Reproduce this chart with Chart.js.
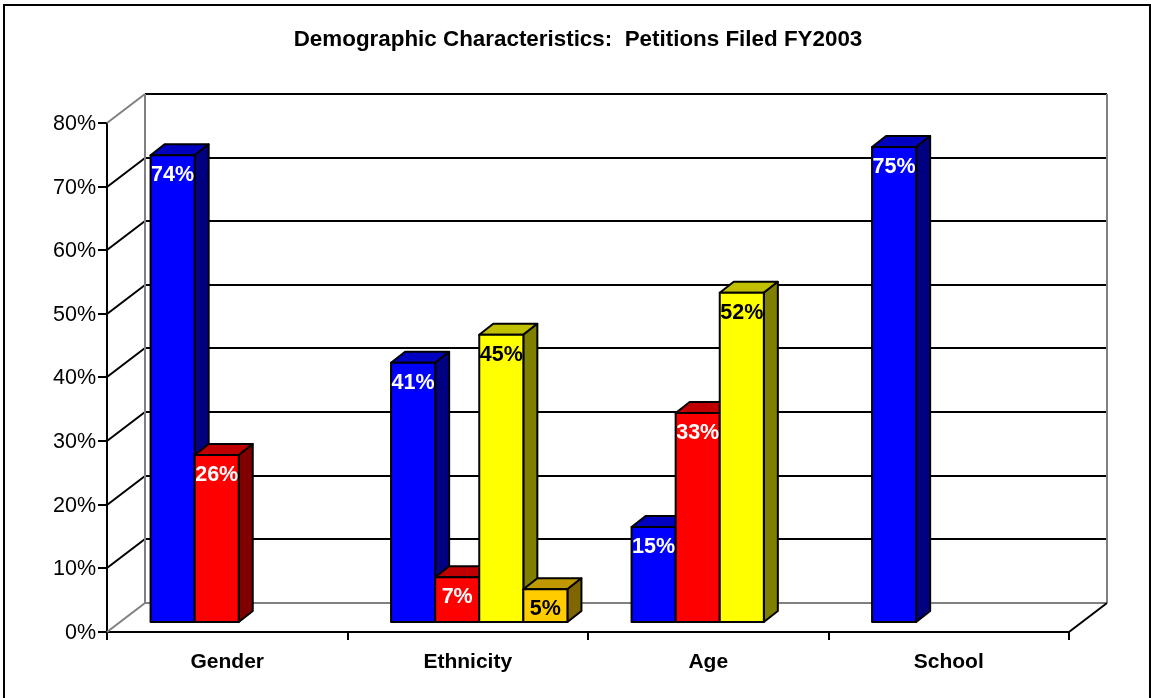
<!DOCTYPE html>
<html>
<head>
<meta charset="utf-8">
<style>
  html, body { margin: 0; padding: 0; background: #fff; }
  canvas { display: block; }
</style>
<script src="https://cdn.jsdelivr.net/npm/chart.js@4"></script>
</head>
<body>
<canvas id="myChart" width="1151" height="698"></canvas>
<script>
const categories = ["Gender", "Ethnicity", "Age", "School"];
const series1 = [73.5, 40.9, 15.1, 74.8];
const series2 = [26.4, 7.2, 33, null];
const series3 = [null, 45.3, 51.9, null];
const series4 = [null, 5.3, null, null];
const frontColors = ["#0000ff", "#ff0000", "#ffff00", "#ffcc00"];
const topColors = ["#0000c0", "#c00000", "#c0c000", "#c09900"];
const sideColors = ["#000080", "#800000", "#808000", "#806600"];
const labelColors = ["#ffffff", "#ffffff", "#000000", "#000000"];
const titleText = "Demographic Characteristics:  Petitions Filed FY2003";
const fontName = "'Liberation Sans', Arial, sans-serif";

// depth of the whole box, and of the bars inside it
const wallX = 38, wallY = 29;
const barShiftX = 11.5, barShiftY = 9;
const barDepthX = 14, barDepthY = 11;

const line = (ctx, x1, y1, x2, y2, color) => {
  ctx.strokeStyle = color;
  ctx.beginPath();
  ctx.moveTo(x1, y1);
  ctx.lineTo(x2, y2);
  ctx.stroke();
};

const face = (ctx, pts, color) => {
  ctx.fillStyle = color;
  ctx.beginPath();
  pts.forEach((p, i) => (i ? ctx.lineTo(p[0], p[1]) : ctx.moveTo(p[0], p[1])));
  ctx.closePath();
  ctx.fill();
  ctx.stroke();
};

const drawWalls = (chart) => {
  const ctx = chart.ctx;
  const a = chart.chartArea;
  const yScale = chart.scales.y;
  ctx.save();
  ctx.lineWidth = 2;
  yScale.ticks.forEach((t) => {
    const py = Math.round(yScale.getPixelForValue(t.value));
    const isEdge = t.value === 0 || t.value === 80;
    line(ctx, a.left, py, a.left + wallX, py - wallY, isEdge ? "#808080" : "#000");
    line(ctx, a.left + wallX, py - wallY, a.right + wallX, py - wallY, t.value === 0 ? "#808080" : "#000");
  });
  line(ctx, a.left + wallX, a.top - wallY, a.left + wallX, a.bottom - wallY, "#808080");
  line(ctx, a.right + wallX, a.top - wallY, a.right + wallX, a.bottom - wallY, "#808080");
  line(ctx, a.right, a.bottom, a.right + wallX, a.bottom - wallY, "#000");
  ctx.restore();
};

const drawBars = (chart) => {
  const ctx = chart.ctx;
  chart.data.datasets.forEach((ds, i) => {
    const meta = chart.getDatasetMeta(i);
    ctx.save();
    ctx.translate(barShiftX, -barShiftY);
    ctx.lineWidth = 2;
    ctx.strokeStyle = "#000";
    ctx.lineJoin = "round";
    meta.data.forEach((el, k) => {
      if (ds.data[k] === null) return;
      const l = el.x - el.width / 2, r = el.x + el.width / 2;
      face(ctx, [[l, el.y], [r, el.y], [r + barDepthX, el.y - barDepthY], [l + barDepthX, el.y - barDepthY]], topColors[i]);
      face(ctx, [[r, el.y], [r + barDepthX, el.y - barDepthY], [r + barDepthX, el.base - barDepthY], [r, el.base]], sideColors[i]);
    });
    meta.controller.draw();
    meta.data.forEach((el, k) => {
      if (ds.data[k] === null) return;
      ctx.strokeRect(el.x - el.width / 2, el.y, el.width, el.base - el.y);
    });
    ctx.restore();
  });
};

const drawLabels = (chart) => {
  const ctx = chart.ctx;
  ctx.save();
  ctx.translate(barShiftX, -barShiftY);
  ctx.font = "bold 21.5px " + fontName;
  ctx.textAlign = "center";
  ctx.textBaseline = "middle";
  chart.data.datasets.forEach((ds, i) => {
    chart.getDatasetMeta(i).data.forEach((el, k) => {
      if (ds.data[k] === null) return;
      ctx.fillStyle = labelColors[i];
      ctx.fillText(Math.round(ds.data[k]) + "%", el.x, el.y + 20);
    });
  });
  ctx.restore();
};

const box3d = {
  id: "box3d",
  beforeDraw(chart) {
    const ctx = chart.ctx;
    ctx.save();
    ctx.fillStyle = "#fff";
    ctx.fillRect(0, 0, chart.width, chart.height);
    // frame is open along the bottom edge, it runs off the page there
    ctx.lineWidth = 2;
    ctx.strokeStyle = "#000";
    ctx.beginPath();
    ctx.moveTo(4, chart.height);
    ctx.lineTo(4, 5);
    ctx.lineTo(1150, 5);
    ctx.lineTo(1150, chart.height);
    ctx.stroke();
    ctx.restore();
  },
  afterLayout(chart) {
    // the title sits centred a little right of the page middle
    chart.titleBlock.left = 5;
    chart.titleBlock.right = chart.width;
  },
  beforeDatasetsDraw(chart) {
    drawWalls(chart);
    // series have to paint left to right so each one covers the last one's side face
    drawBars(chart);
    drawLabels(chart);
    return false;
  },
};

new Chart(document.getElementById("myChart"), {
  type: "bar",
  data: {
    labels: categories,
    datasets: [series1, series2, series3, series4].map((data, i) => ({
      data: data,
      backgroundColor: frontColors[i],
      borderWidth: 0,
      categoryPercentage: 176 / 240,
      barPercentage: 1,
    })),
  },
  options: {
    responsive: false,
    animation: false,
    events: [],
    layout: { padding: { left: 0, right: 82, top: 0, bottom: 0 } },
    plugins: {
      legend: { display: false },
      tooltip: { enabled: false },
      title: {
        display: true,
        text: titleText,
        color: "#000",
        font: { family: fontName, size: 22.4, weight: "bold", lineHeight: 1.2 },
        padding: { top: 26.5, bottom: 69.6 },
      },
    },
    scales: {
      x: {
        afterFit: (s) => { s.height = 66; },
        border: { color: "#000", width: 2 },
        grid: { drawOnChartArea: false, color: "#000", lineWidth: 2, tickLength: 8 },
        ticks: { color: "#000", padding: 10, font: { family: fontName, size: 21, weight: "bold" } },
      },
      y: {
        min: 0,
        max: 80,
        afterFit: (s) => { s.width = 107; },
        border: { color: "#000", width: 2 },
        grid: { drawOnChartArea: false, color: "#000", lineWidth: 2, tickLength: 9 },
        ticks: {
          stepSize: 10,
          color: "#000",
          padding: 2,
          labelOffset: 1,
          font: { family: fontName, size: 21.5 },
          callback: (v) => v + "%",
        },
      },
    },
  },
  plugins: [box3d],
});
</script>
</body>
</html>
